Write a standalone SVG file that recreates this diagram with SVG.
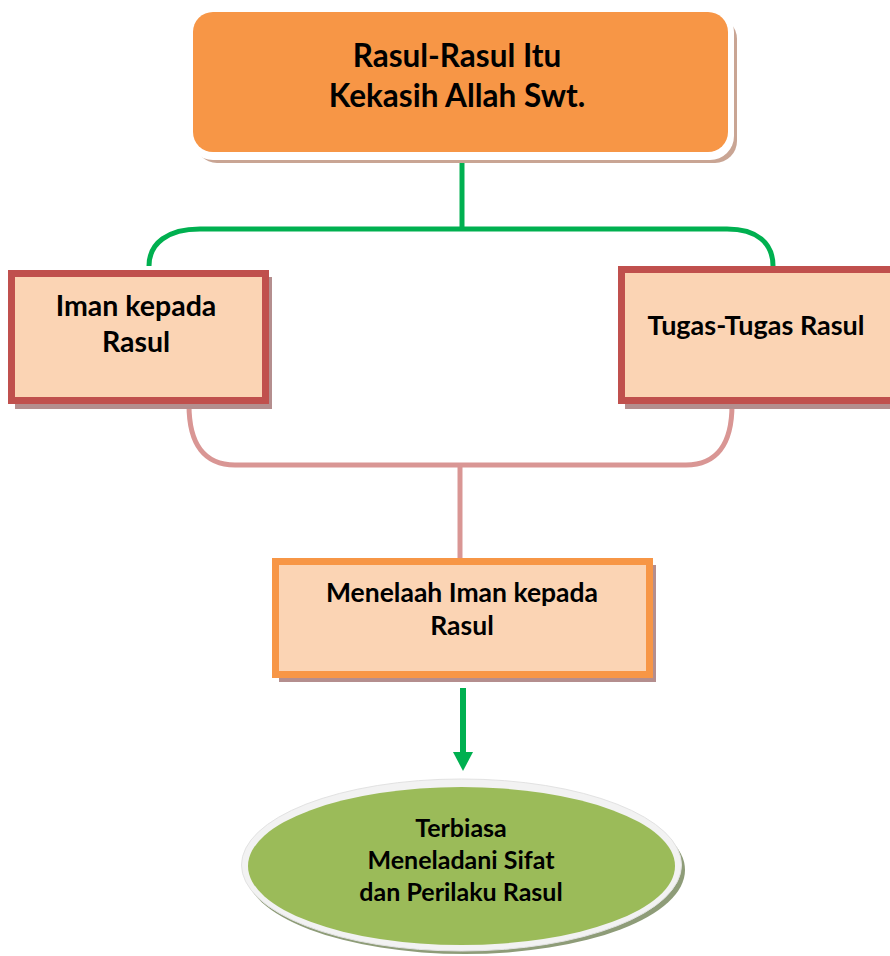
<svg xmlns="http://www.w3.org/2000/svg" width="890" height="956" viewBox="0 0 890 956">
<style>
  text { font-family: Lato, "Open Sans", "Liberation Sans", sans-serif; font-weight: bold; fill: #000; text-anchor: middle; }
  .t1 { font-size: 31.5px; }
  .t2 { font-size: 28.5px; }
  .t2b { font-size: 27px; }
  .t2c { font-size: 26.5px; }
  .t3 { font-size: 25px; }
  .shadow { fill: #B48E8E; }
  .box { fill: #FBD4B4; stroke-width: 7; }
  .conn { fill: none; stroke-width: 5; }
</style>
<rect width="890" height="956" fill="#FFFFFF"/>

<g id="connectors">
  <path class="conn" stroke="#00B050" d="M462,152 L462,229"/>
  <path class="conn" stroke="#00B050" d="M149,266 C149,243 168,229 200,229 L727,229 C757,229 773,243 773,266"/>
  <path class="conn" stroke="#D99694" d="M189,405 C189,445 205,465 235,465 L686,465 C716,465 732,445 732,405"/>
  <path class="conn" stroke="#D99694" d="M460,465 L460,559"/>
  <line x1="463" y1="688" x2="463" y2="754" stroke="#00B050" stroke-width="6"/>
  <polygon points="453,752 473,752 463,771" fill="#00B050"/>
</g>

<g id="node-top">
  <rect x="195" y="17" width="542" height="146" rx="22" fill="#C9A594"/>
  <rect x="189" y="8" width="545" height="152" rx="24" fill="#FFFFFF"/>
  <rect x="193" y="12" width="535" height="140" rx="20" fill="#F79646"/>
  <text class="t1" x="457" y="67">Rasul-Rasul Itu</text>
  <text class="t1" x="457" y="107">Kekasih Allah Swt.</text>
</g>

<g id="node-iman">
  <rect class="shadow" x="15" y="277" width="257" height="132"/>
  <rect class="box" x="11.5" y="273.5" width="254" height="127" stroke="#C0504D"/>
  <text class="t2" x="136" y="316">Iman kepada</text>
  <text class="t2" x="136" y="352">Rasul</text>
</g>

<g id="node-tugas">
  <rect class="shadow" x="625" y="274" width="300" height="135"/>
  <rect class="box" x="621.5" y="269.5" width="300" height="131" stroke="#C0504D"/>
  <text class="t2b" x="756" y="335">Tugas-Tugas Rasul</text>
</g>

<g id="node-menelaah">
  <rect class="shadow" x="279" y="565" width="377" height="117"/>
  <rect class="box" x="275.5" y="561.5" width="374" height="113" stroke="#F79646"/>
  <text class="t2c" x="462" y="602">Menelaah Iman kepada</text>
  <text class="t2c" x="462" y="635">Rasul</text>
</g>

<g id="node-terbiasa">
  <ellipse cx="465" cy="870" rx="220" ry="84" fill="#8E9C78"/>
  <ellipse cx="461.5" cy="865" rx="220" ry="86" fill="#F2F2F2" stroke="#E2E2E2" stroke-width="1"/>
  <ellipse cx="461.5" cy="866" rx="213.5" ry="79" fill="#9BBB59"/>
  <text class="t3" x="461" y="837">Terbiasa</text>
  <text class="t3" x="461" y="869">Meneladani Sifat</text>
  <text class="t3" x="461" y="901">dan Perilaku Rasul</text>
</g>
</svg>
